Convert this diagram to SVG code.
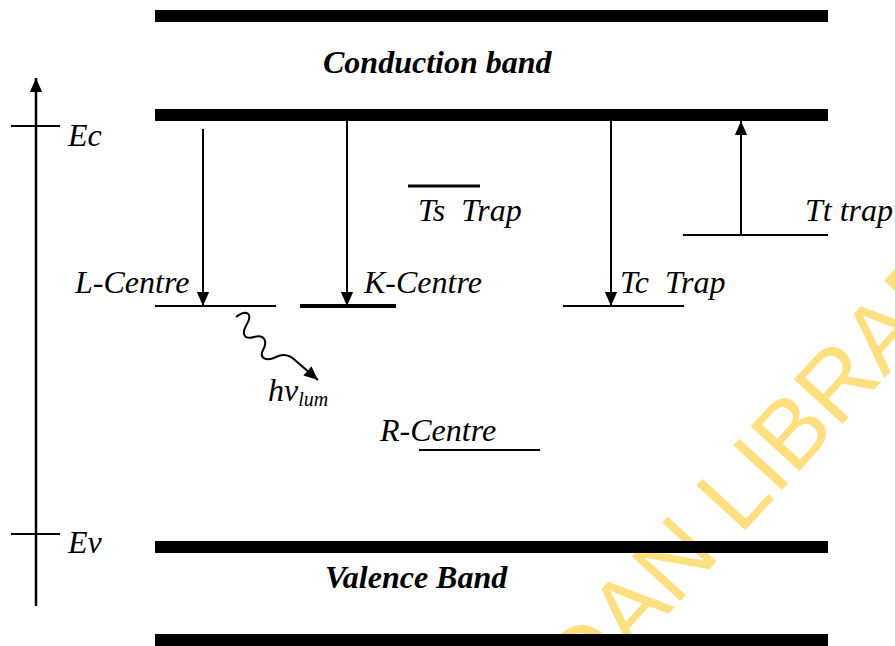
<svg xmlns="http://www.w3.org/2000/svg" width="895" height="646" viewBox="0 0 895 646">
<style>
.lbl{font-family:"Liberation Serif","Times New Roman",serif;font-style:italic;font-size:32px;fill:#000}
.band{font-family:"Liberation Serif","Times New Roman",serif;font-style:italic;font-weight:bold;font-size:32px;fill:#000}
.bar{fill:#000}
.lvl{stroke:#000;stroke-width:2;fill:none}
.arr{stroke:#000;stroke-width:2;fill:none;marker-end:url(#ah)}
.wm{font-family:"Liberation Sans",Arial,sans-serif;font-size:96px;fill:#FFDF80}
</style>
<defs>
<marker id="ah" markerUnits="userSpaceOnUse" markerWidth="14" markerHeight="16" refX="16" refY="7" orient="auto" viewBox="0 0 16 14">
<path d="M0,0 L16,7 L0,14 Z" fill="#000"/>
</marker>
</defs>
<rect width="895" height="646" fill="#fff"/>
<g id="watermark">
<text class="wm" x="585" y="705" transform="rotate(-47.5 585 705)">DAN LIBRAR</text>
</g>
<g id="conduction-band">
<rect class="bar" x="155" y="10" width="673" height="12"/>
<rect class="bar" x="155" y="109" width="673" height="12"/>
<text class="band" x="323" y="73">Conduction band</text>
</g>
<g id="valence-band">
<rect class="bar" x="155" y="541" width="673" height="12"/>
<rect class="bar" x="155" y="634" width="673" height="12"/>
<text class="band" x="325" y="588">Valence Band</text>
</g>
<g id="energy-axis">
<line x1="36" y1="606" x2="36" y2="78" stroke="#000" stroke-width="2.5" marker-end="url(#ah)"/>
<line x1="11" y1="126" x2="60" y2="126" stroke="#000" stroke-width="2"/>
<line x1="11" y1="534" x2="60" y2="534" stroke="#000" stroke-width="2"/>
<text class="lbl" x="68" y="146">Ec</text>
<text class="lbl" x="68" y="553">Ev</text>
</g>
<g id="l-centre">
<line class="lvl" x1="155" y1="306" x2="276" y2="306"/>
<text class="lbl" x="75" y="293">L-Centre</text>
</g>
<g id="k-centre">
<line x1="300" y1="306" x2="396" y2="306" stroke="#000" stroke-width="4"/>
<text class="lbl" x="364" y="293">K-Centre</text>
</g>
<g id="ts-trap">
<line x1="408" y1="186" x2="480" y2="186" stroke="#000" stroke-width="3"/>
<text class="lbl" x="418" y="221" xml:space="preserve">Ts  Trap</text>
</g>
<g id="tc-trap">
<line class="lvl" x1="563" y1="306" x2="684" y2="306"/>
<text class="lbl" x="620" y="293" xml:space="preserve">Tc  Trap</text>
</g>
<g id="tt-trap">
<line class="lvl" x1="683" y1="235" x2="828" y2="235"/>
<text class="lbl" x="805" y="221">Tt trap</text>
</g>
<g id="r-centre">
<line class="lvl" x1="419" y1="450" x2="540" y2="450"/>
<text class="lbl" x="380" y="441">R-Centre</text>
</g>
<g id="luminescence">
<text class="lbl" x="268" y="401">hv<tspan font-size="20" dy="5">lum</tspan></text>
</g>
<g id="connectors">
<line class="arr" x1="203" y1="129" x2="203" y2="306"/>
<line class="arr" x1="347" y1="121" x2="347" y2="306"/>
<line class="arr" x1="611" y1="121" x2="611" y2="306"/>
<line class="arr" x1="741" y1="235" x2="741" y2="121"/>
<path class="arr" d="M236,317 C246,309 253,313 247,324 C241,334 244,340 254,337 C264,334 268,341 263,350 C259,358 266,362 276,357 C284,353 290,355 296,361 L318,380"/>
</g>
</svg>
